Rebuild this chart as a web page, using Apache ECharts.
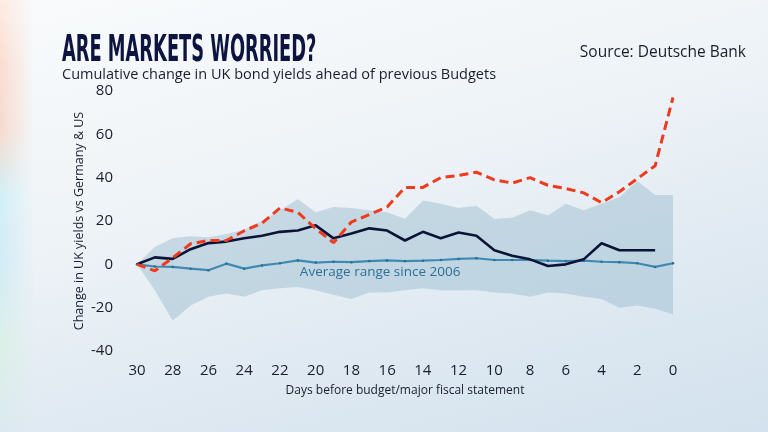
<!DOCTYPE html>
<html>
<head>
<meta charset="utf-8">
<script src="https://cdn.jsdelivr.net/npm/echarts@6/dist/echarts.min.js"></script>
<style>
html,body{margin:0;padding:0;width:768px;height:432px;overflow:hidden;}
body{background:linear-gradient(165deg,#f9fbfc 0%,#eef3f7 40%,#dde8f1 75%,#d3e2ee 100%);position:relative;}
#edge{position:absolute;left:0;top:0;width:34px;height:432px;
background:linear-gradient(to bottom,#fde9df 0%,#fbd9cc 15%,#f7d7c9 30%,#cdeef5 45%,#cfeaf7 60%,#d9f1e4 80%,#dbe9f0 100%);
-webkit-mask-image:linear-gradient(to right,rgba(0,0,0,0.9),rgba(0,0,0,0));mask-image:linear-gradient(to right,rgba(0,0,0,0.9),rgba(0,0,0,0));}
#chart{position:absolute;left:0;top:0;width:768px;height:432px;}
</style>
</head>
<body>
<div id="edge"></div>
<div id="chart"></div>
<script>
var days = ['30','29','28','27','26','25','24','23','22','21','20','19','18','17','16','15','14','13','12','11','10','9','8','7','6','5','4','3','2','1','0'];
var truss = [0,-3,3,9.5,11,11,15.5,19,26,24,16.5,10,19.5,23,26.5,35.5,35.5,40,41,42.5,39,37.5,40,36.5,35,33,28.5,33.5,39.5,45.5,77];
var today = [0,3.2,2.5,7,9.8,10.5,12,13.2,15,15.6,18,12,14.2,16.6,15.6,11,15,12,14.7,13.2,6.5,4,2.3,-0.8,0,2.3,9.7,6.5,6.5,6.5,null];
var average = [0,-1,-1.2,-2,-2.7,0.3,-2,-0.5,0.5,1.8,0.8,1.2,1,1.5,1.8,1.5,1.7,2,2.5,2.8,2,2,2,1.7,1.5,1.7,1.2,1,0.5,-1.2,0.5];
var rangeUpper = [0,8,12,13,12.5,14,16,20,25,30,24,26.5,26,25,24,21,29.5,28,26,27,21,21.5,25,22.5,28,25,28,31,38.5,32,32];
var rangeLower = [0,-12,-26,-19,-15,-13.5,-15,-12,-11,-10.5,-12,-14,-16,-13,-13,-12,-11,-12,-12,-12,-13,-13.5,-15,-13,-13.5,-15,-16,-20,-19,-20.5,-23];
var yTicks = [-40,-20,0,20,40,60,80];

var FONT = "'Open Sans', 'Noto Sans', sans-serif";
var bandSpan = rangeUpper.map(function(u,i){return u - rangeLower[i];});

function labelAt(arr, idx, lab){
  return arr.map(function(v,i){
    if(i===idx){return {value:v,label:lab};}
    return v;
  });
}

var chart = echarts.init(document.getElementById('chart'), null, {renderer:'canvas'});
chart.setOption({
  backgroundColor:'transparent',
  animation:false,
  textStyle:{fontFamily:FONT},
  grid:{left:137,right:95,top:91,bottom:81},
  graphic:[
    {type:'text',left:62,top:33,scaleX:0.535,style:{text:'ARE MARKETS WORRIED?',font:"bold 37px 'Liberation Sans Narrow','DejaVu Sans Condensed','Roboto',sans-serif",fill:'#0d1440'}},
    {type:'text',left:62,top:67,style:{text:'Cumulative change in UK bond yields ahead of previous Budgets',font:"14.5px "+FONT,fill:'#1a1d2e'}},
    {type:'text',right:22,top:45,style:{text:'Source: Deutsche Bank',font:"15.5px "+FONT,fill:'#1a1d2e'}}
  ],
  xAxis:{
    type:'category',data:days,boundaryGap:false,
    axisLine:{show:false},axisTick:{show:false},splitLine:{show:false},
    axisLabel:{interval:1,margin:12,fontSize:15,color:'#1a1d2e',fontFamily:FONT},
    name:'Days before budget/major fiscal statement',nameLocation:'middle',nameGap:34,nameMoveOverlap:false,
    nameTextStyle:{fontSize:12,color:'#1a1d2e',fontFamily:FONT}
  },
  yAxis:{
    type:'value',min:yTicks[0],max:yTicks[yTicks.length-1],interval:20,
    axisLine:{show:false},axisTick:{show:false},splitLine:{show:false},
    axisLabel:{margin:24,fontSize:15,color:'#1a1d2e',fontFamily:FONT},
    name:'Change in UK yields vs Germany & US',nameLocation:'middle',nameGap:51,nameRotate:90,nameMoveOverlap:false,
    nameTextStyle:{fontSize:12.5,color:'#1a1d2e',fontFamily:FONT}
  },
  series:[
    {type:'line',name:'lower',data:rangeLower,stack:'band',stackStrategy:'all',symbol:'none',lineStyle:{width:0,opacity:0},areaStyle:{opacity:0},silent:true},
    {type:'line',name:'range',data:bandSpan,stack:'band',stackStrategy:'all',symbol:'none',lineStyle:{width:0,opacity:0},areaStyle:{color:'rgba(155,188,207,0.48)',opacity:1},silent:true},
    {type:'line',name:'Average',data:labelAt(average,14,{show:true,position:'bottom',distance:3,offset:[-7,0],formatter:'Average range since 2006',fontSize:13.5,color:'#2b7099',fontFamily:FONT}),
      symbol:'circle',symbolSize:2.5,itemStyle:{color:'#2d6c8f'},lineStyle:{color:'#3e8ab3',width:2.2},z:3},
    {type:'line',name:'Today',data:labelAt(today,29,{show:true,position:'top',distance:6,offset:[-11,0],formatter:'Today',fontSize:15,color:'#2a3040',fontFamily:FONT}),
      symbol:'none',lineStyle:{color:'#0b1437',width:2.6},z:4},
    {type:'line',name:'Truss',data:labelAt(truss,30,{show:true,position:'top',distance:3,offset:[-6,0],formatter:'Truss',fontSize:15,color:'#e8321e',fontFamily:FONT}),
      symbol:'none',lineStyle:{color:'#ee3a1d',width:3,type:[9,5]},z:5}
  ]
});
</script>
</body>
</html>
